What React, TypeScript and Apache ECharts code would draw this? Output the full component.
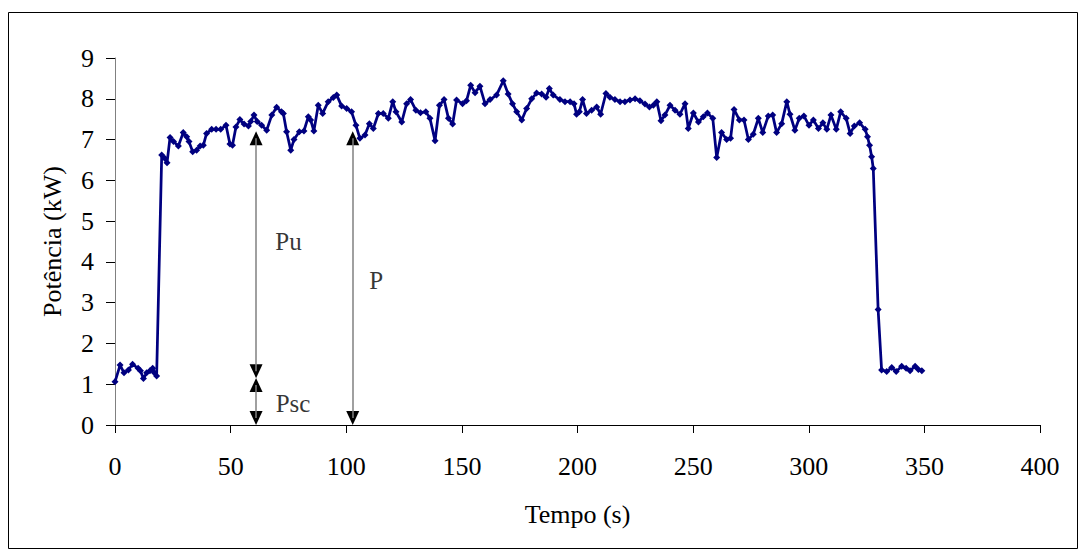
import React, { useEffect, useRef } from "react";
import * as echarts from "echarts";

// Time (s) and power (kW)
const tempo: number[] = [
  0, 2.2, 3.9, 5.8, 7.6, 10, 11, 12.3, 13.7, 15.1, 16.3, 17, 18,
  20.2, 21.5, 22.5, 23.8, 25.3, 27.4, 29.5, 31, 32, 33.6, 35.3, 36.8, 38.2,
  39.6, 41.8, 43.7, 45.7, 48, 49.7, 50.8, 52.3, 54, 55.8, 57.7, 58.7, 60.1,
  61.5, 63.4, 65.6, 67.8, 69.9, 72, 72.8, 74.2, 76, 77.4, 79.7, 81.7, 83.6,
  84.6, 86, 87.9, 89.8, 92.2, 94.4, 95.9, 98, 100.2, 102.3, 104.2, 105.9,
  108.1, 110, 111.7, 113.9, 116, 118.2, 120.1, 121.5, 124, 126.1, 127.8,
  130.1, 132.1, 134.4, 136.2, 138.4, 140.3, 142.3, 144.2, 146, 147.7, 150.3,
  152, 153.8, 155.7, 157.8, 160, 162.2, 165, 167.9, 170, 171.9, 173.7, 175.9,
  178, 180.2, 182.3, 184.5, 186.4, 187.8, 189.5, 192.4, 194.6, 196.8, 198.5,
  199.6, 200.8, 202.2, 203.9, 206.1, 208.3, 210, 212.3, 214, 216.2, 218.4,
  220.5, 222.7, 224.9, 227, 229.2, 231.1, 232.8, 234.3, 236.1, 237.8, 240,
  242.2, 244.3, 246.5, 247.9, 250.1, 252.3, 254.4, 256.2, 258.5, 260.2,
  262.3, 264.5, 266.2, 267.7, 270, 272, 273.9, 276, 278.2, 280.1, 282.5,
  284.4, 286.1, 288.3, 290.5, 291.9, 294, 295.9, 297.9, 300.1, 302, 304.2,
  306.1, 307.8, 309.6, 311.9, 313.8, 316.2, 317.9, 319.7, 322, 324.4, 325.4,
  326.3, 327.2, 327.9, 330, 331.5, 333.7, 335.9, 337.8, 340.2, 342.1, 343.8,
  346, 347.4, 348.9,
];
const potencia: number[] = [
  1.06, 1.47, 1.28, 1.35, 1.49, 1.39, 1.33, 1.14, 1.28, 1.33, 1.39, 1.28, 1.2,
  6.62, 6.54, 6.43, 7.05, 6.95, 6.84, 7.17, 7.07, 6.95, 6.7, 6.74, 6.84, 6.86,
  7.15, 7.25, 7.25, 7.25, 7.35, 6.89, 6.86, 7.31, 7.49, 7.38, 7.33, 7.44, 7.6,
  7.44, 7.35, 7.23, 7.6, 7.79, 7.68, 7.64, 7.19, 6.74, 7.0, 7.19, 7.21, 7.56,
  7.48, 7.21, 7.84, 7.64, 7.93, 8.03, 8.09, 7.82, 7.76, 7.68, 7.35, 7.03,
  7.11, 7.39, 7.27, 7.64, 7.64, 7.52, 7.93, 7.68, 7.43, 7.88, 7.98,
  7.72, 7.66, 7.68, 7.52, 6.97, 7.84, 7.98, 7.52, 7.38, 7.97, 7.88,
  7.95, 8.33, 8.15, 8.31, 7.88, 7.98, 8.09, 8.44, 8.12, 7.88, 7.68, 7.48,
  7.76, 8.0, 8.14, 8.12, 8.04, 8.25, 8.09, 7.98, 7.93, 7.93, 7.88,
  7.62, 7.68, 7.98, 7.64, 7.72, 7.8, 7.62, 8.13, 8.04, 7.98, 7.93,
  7.93, 7.97, 8.0, 7.95, 7.87, 7.8, 7.84, 7.93, 7.46, 7.6, 7.84,
  7.72, 7.62, 7.88, 7.27, 7.65, 7.43, 7.56, 7.65, 7.52, 6.56,
  7.17, 7.0, 7.03, 7.74, 7.48, 7.48, 7.0, 7.13, 7.52, 7.17, 7.58,
  7.6, 7.17, 7.39, 7.93, 7.62, 7.23, 7.52, 7.58, 7.35, 7.48, 7.27,
  7.41, 7.25, 7.6, 7.25, 7.68, 7.52, 7.15, 7.33, 7.41, 7.25, 7.07,
  6.86, 6.58, 6.29, 2.83, 1.35, 1.31, 1.41, 1.31, 1.44, 1.39, 1.33,
  1.44, 1.36, 1.33,
];

const xTicks = { min: 0, max: 400, interval: 50 };
const yTicks = { min: 0, max: 9, interval: 1 };

// Annotation arrows (data space): [x, yFrom, yTo]
const arrowLines: [number, number, number][] = [
  [61, 7.03, 1.32],
  [61, 0.98, 0.17],
  [102.8, 7.03, 0.17],
];
// Arrow heads: [x, y, rotation]
const arrowHeads: [number, number, number][] = [
  [61, 7.03, 0],
  [61, 1.32, 180],
  [61, 0.98, 0],
  [61, 0.17, 180],
  [102.8, 7.03, 0],
  [102.8, 0.17, 180],
];
// Annotation labels: [x, y, text]
const annotLabels: [number, number, string][] = [
  [75, 4.5, "Pu"],
  [77, 0.53, "Psc"],
  [113, 3.55, "P"],
];

const FONT = "Liberation Serif";

export default function App() {
  const ref = useRef<HTMLDivElement>(null);
  useEffect(() => {
    if (!ref.current) return;
    const chart = echarts.init(ref.current, null, { renderer: "svg" });
    const lineData = tempo.map((t, i) => [t, potencia[i]]);
    chart.setOption({
      animation: false,
      backgroundColor: "#ffffff",
      textStyle: { fontFamily: FONT, color: "#000" },
      grid: { left: 115, right: 43, top: 58, bottom: 125, containLabel: false },
      graphic: [
        {
          type: "rect",
          shape: { x: 8.5, y: 12.5, width: 1069, height: 536 },
          style: { fill: "none", stroke: "#000", lineWidth: 1 },
          silent: true,
        },
      ],
      xAxis: {
        type: "value",
        ...xTicks,
        name: "Tempo (s)",
        nameLocation: "middle",
        nameGap: 76,
        nameTextStyle: { fontFamily: FONT, fontSize: 26, color: "#000" },
        axisLine: { show: true, onZero: false, lineStyle: { color: "#000", width: 1 } },
        axisTick: { show: true, inside: false, length: 8, lineStyle: { color: "#000" } },
        axisLabel: { fontFamily: FONT, fontSize: 26, color: "#000", margin: 28 },
        splitLine: { show: false },
      },
      yAxis: {
        type: "value",
        ...yTicks,
        name: "Potência (kW)",
        nameLocation: "middle",
        nameGap: 50,
        nameTextStyle: { fontFamily: FONT, fontSize: 26, color: "#000" },
        axisLine: { show: true, lineStyle: { color: "#808080", width: 1 } },
        axisTick: { show: true, inside: false, length: 9, lineStyle: { color: "#000" } },
        axisLabel: { fontFamily: FONT, fontSize: 26, color: "#000", margin: 21 },
        splitLine: { show: false },
      },
      series: [
        {
          type: "line",
          data: lineData,
          showSymbol: true,
          showAllSymbol: true,
          symbol: "diamond",
          symbolSize: 7,
          lineStyle: { color: "#000080", width: 2.75 },
          itemStyle: { color: "#000080" },
          z: 3,
          markLine: {
            silent: true,
            symbol: ["none", "none"],
            label: { show: false },
            lineStyle: { color: "#808080", width: 1.5, type: "solid" },
            data: arrowLines.map(([x, y1, y2]) => [
              { coord: [x, y1] },
              { coord: [x, y2] },
            ]),
          },
        },
        {
          type: "scatter",
          data: arrowHeads.map(([x, y, r]) => ({ value: [x, y], symbolRotate: r })),
          symbol: "triangle",
          symbolSize: [13, 14],
          itemStyle: { color: "#000", opacity: 1 },
          silent: true,
          z: 4,
        },
        {
          type: "scatter",
          data: annotLabels.map(([x, y, s]) => ({ value: [x, y], name: s })),
          symbol: "circle",
          symbolSize: 1,
          itemStyle: { color: "rgba(0,0,0,0)" },
          label: {
            show: true,
            position: "inside",
            formatter: (p: any) => p.name,
            fontFamily: FONT,
            fontSize: 25,
            color: "#000",
          },
          silent: true,
          z: 5,
        },
      ],
    });
    return () => chart.dispose();
  }, []);
  return (
    <div
      ref={ref}
      style={{ position: "fixed", left: 0, top: 0, width: 1083, height: 550 }}
    />
  );
}
